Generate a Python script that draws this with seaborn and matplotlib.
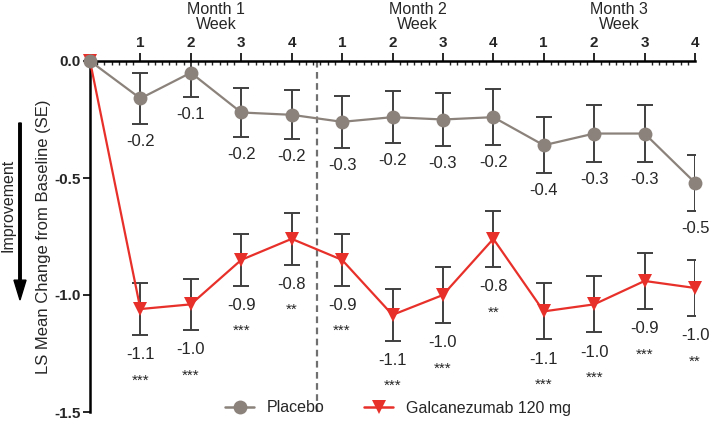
import numpy as np
import pandas as pd
import seaborn as sns
import matplotlib.pyplot as plt
from matplotlib.ticker import MultipleLocator

# data
weeks = list(range(0, 13))
placebo = [0.0, -0.16, -0.05, -0.22, -0.23, -0.26, -0.24, -0.25, -0.24, -0.36, -0.31, -0.31, -0.52]
placebo_se = [0.0, 0.11, 0.105, 0.105, 0.105, 0.11, 0.11, 0.115, 0.12, 0.12, 0.12, 0.12, 0.12]
galca = [0.0, -1.06, -1.04, -0.85, -0.76, -0.85, -1.085, -1.0, -0.76, -1.07, -1.04, -0.94, -0.97]
galca_se = [0.0, 0.11, 0.11, 0.11, 0.11, 0.11, 0.11, 0.12, 0.12, 0.12, 0.12, 0.12, 0.12]
placebo_lbl = ["-0.2", "-0.1", "-0.2", "-0.2", "-0.3", "-0.2", "-0.3", "-0.2", "-0.4", "-0.3", "-0.3", "-0.5"]
galca_lbl = ["-1.1", "-1.0", "-0.9", "-0.8", "-0.9", "-1.1", "-1.0", "-0.8", "-1.1", "-1.0", "-0.9", "-1.0"]
stars = ["***", "***", "***", "**", "***", "***", "***", "**", "***", "***", "***", "**"]
week_ticks = ["1", "2", "3", "4"] * 3
months = ["Month 1\nWeek", "Month 2\nWeek", "Month 3\nWeek"]

GRAY = "#8b827b"
RED = "#e8302a"
BAR = "#3f3f3f"

sns.set_style("ticks")
plt.rcParams["font.family"] = ["Liberation Sans", "DejaVu Sans"]

df = pd.DataFrame({
    "week": weeks * 2,
    "value": galca + placebo,
    "group": ["Galcanezumab 120 mg"] * 13 + ["Placebo"] * 13,
})

fig = plt.figure(figsize=(7.09, 4.41), dpi=100)
ax = fig.add_axes([90 / 709, 1 - 412 / 441, 605 / 709, 351 / 441])

# error bars
ax.errorbar(weeks[1:], galca[1:], yerr=galca_se[1:], fmt="none", ecolor=BAR,
            elinewidth=1.4, capsize=6, capthick=1.4, zorder=2)
ax.errorbar(weeks[1:], placebo[1:], yerr=placebo_se[1:], fmt="none", ecolor=BAR,
            elinewidth=1.4, capsize=6, capthick=1.4, zorder=2)

sns.lineplot(data=df, x="week", y="value", hue="group", style="group",
             palette={"Placebo": GRAY, "Galcanezumab 120 mg": RED},
             markers={"Placebo": "o", "Galcanezumab 120 mg": "v"},
             dashes=False, markersize=10, markeredgewidth=0, linewidth=1.6,
             ax=ax, legend=False, zorder=3, clip_on=False)

# value labels
for i in range(12):
    x = weeks[i + 1]
    ax.text(x, placebo[i + 1] - placebo_se[i + 1] - 0.075, placebo_lbl[i],
            ha="center", va="center", fontsize=12)
    y = galca[i + 1] - galca_se[i + 1] - 0.085
    ax.text(x, y, galca_lbl[i], ha="center", va="center", fontsize=12)
    ax.text(x, y - 0.11, stars[i], ha="center", va="center", fontsize=11)

ax.axvline(4.5, ymin=0, ymax=1, color="#707070", ls=(0, (3, 2)), lw=1.6, zorder=1)

ax.set_xlim(0, 12)
ax.set_ylim(-1.5, 0)
ax.xaxis.tick_top()
ax.set_xticks(weeks[1:])
ax.set_xticklabels(week_ticks, fontweight="bold", fontsize=11)
ax.xaxis.set_minor_locator(MultipleLocator(1 / 7))
ax.tick_params(axis="x", which="major", direction="out", length=6, width=1.4, pad=2)
ax.tick_params(axis="x", which="minor", direction="in", length=3, width=1)
ax.set_yticks([0, -0.5, -1.0, -1.5])
ax.set_yticklabels(["0.0", "-0.5", "-1.0", "-1.5"], fontweight="bold", fontsize=11)
ax.tick_params(axis="y", length=5, width=1.4, pad=2)
ax.set_xlabel("")
ax.set_ylabel("LS Mean Change from Baseline (SE)", fontsize=12)
ax.yaxis.set_label_coords(-39 / 605, 0.5)

for s in ["bottom", "right"]:
    ax.spines[s].set_visible(False)
for s in ["top", "left"]:
    ax.spines[s].set_linewidth(1.8)
    ax.spines[s].set_color("black")

for j, m in enumerate(months):
    ax.text(2.5 + 4 * j, 1.125, m, transform=ax.get_xaxis_transform(),
            ha="center", va="center", fontsize=11.5, linespacing=1.05)

# improvement arrow
fig.text(8 / 709, 1 - 205 / 441, "Improvement", rotation=90, ha="center",
         va="center", fontsize=11.5)
fig.patches.append(plt.matplotlib.patches.FancyArrow(
    20 / 709, 1 - 123 / 441, 0, -177 / 441, width=0.0035, head_width=0.017,
    head_length=0.045, length_includes_head=True, color="black",
    transform=fig.transFigure, figure=fig))

# legend
h1 = plt.Line2D([], [], color=GRAY, marker="o", markersize=10, lw=1.8, markeredgewidth=0)
h2 = plt.Line2D([], [], color=RED, marker="v", markersize=10, lw=1.8, markeredgewidth=0)
fig.legend([h1, h2], ["Placebo", "Galcanezumab 120 mg"], loc="center",
           bbox_to_anchor=(398 / 709, 1 - 408 / 441), ncol=2, frameon=False,
           fontsize=11.5, handlelength=1.8, columnspacing=2.5)

fig.savefig("out.png", dpi=100)
